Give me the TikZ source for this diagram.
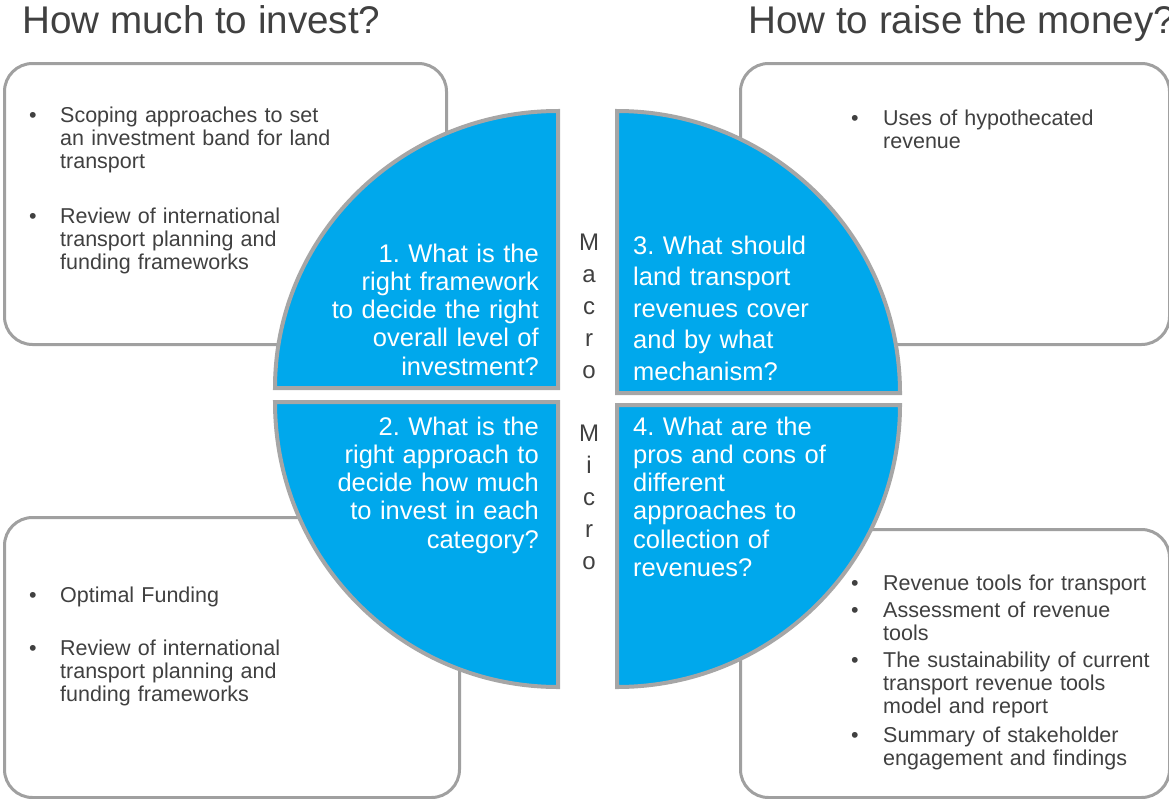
\documentclass[tikz,border=0pt]{standalone}
\usepackage{fontspec}
\setmainfont{Liberation Sans}
\usetikzlibrary{positioning}
\frenchspacing

\definecolor{qblue}{RGB}{0,168,236}
\definecolor{qedge}{RGB}{166,166,166}
\definecolor{boxedge}{RGB}{160,160,160}
\definecolor{txt}{RGB}{64,64,64}

\tikzset{
  frame/.style={draw=boxedge,line width=3pt,rounded corners=28pt,fill=white,
    anchor=north west,inner sep=0pt},
  quad/.style={fill=qblue,draw=qedge,line width=4pt},
  title/.style={anchor=base west,inner sep=0pt,text=txt,
    font=\fontsize{38.6}{44}\selectfont},
  item/.style={anchor=base west,inner sep=0pt,text=txt,align=left,text width=280pt,
    font=\fontsize{21.5}{23.3}\selectfont},
  bul/.style={anchor=base west,inner sep=0pt,text=txt,
    font=\fontsize{21.5}{23.3}\selectfont},
  qtext/.style={inner sep=0pt,text=white,text width=240pt,font=\fontsize{25.5}{28.3}\selectfont},
  axis/.style={anchor=base,inner sep=0pt,text=txt,align=center,text width=30pt,
    font=\fontsize{24}{32.2}\selectfont}
}

\begin{document}
\begin{tikzpicture}[x=1pt,y=-1pt]
    \useasboundingbox (0,0) rectangle (1169,798);
    % titles
    \node[title] (ttl) at (22,33) {How much to invest?};
    \node[title] (ttr) at (748,33) {How to raise the money?};
    % boxes behind the circle
    \node[frame,minimum width=442,minimum height=281] (boxtl) at (3,62) {};
    \node[frame,minimum width=429,minimum height=281] (boxtr) at (739,62) {};
    \node[frame,minimum width=455,minimum height=280] (boxbl) at (3,516) {};
    \node[frame,minimum width=429,minimum height=268] (boxbr) at (739,528) {};
    % the four quarters
    \filldraw[quad] (558,388) -- (275,388) arc[start angle=180,end angle=270,x radius=283,y radius=277] -- cycle;
    \filldraw[quad] (558,402) -- (558,687) arc[start angle=90,end angle=180,x radius=283,y radius=285] -- cycle;
    \filldraw[quad] (617,393) -- (617,111) arc[start angle=270,end angle=360,x radius=283,y radius=282] -- cycle;
    \filldraw[quad] (617,405) -- (900,405) arc[start angle=0,end angle=90,x radius=283,y radius=282] -- cycle;
    % questions
    \node[qtext,anchor=base east,align=right] (q1) at (539,262) {1. What is the\\right framework\\to decide the right\\overall level of\\investment?};
    \node[qtext,anchor=base east,align=right] (q2) at (539,435) {2. What is the\\right approach to\\decide how much\\to invest in each\\category?};
    \node[qtext,anchor=base west,align=left,font=\fontsize{25.5}{31.5}\selectfont] (q3) at (633,254) {3. What should\\land transport\\revenues cover\\and by what\\mechanism?};
    \node[qtext,anchor=base west,align=left] (q4) at (633,435) {4. What are the\\pros and cons of\\different\\approaches to\\collection of\\revenues?};
    % macro / micro
    \node[axis] (macro) at (589,250) {M\\a\\c\\r\\o};
    \node[axis] (micro) at (589,441) {M\\i\\c\\r\\o};
    % top left items
    \node[bul] (b1) at (29,122) {•};
    \node[item] (i1) at (60,122) {Scoping approaches to set\\an investment band for land\\transport};
    \node[bul] (b2) at (29,223) {•};
    \node[item] (i2) at (60,223) {Review of international\\transport planning and\\funding frameworks};
    % bottom left items
    \node[bul] (b3) at (29,602) {•};
    \node[item] (i3) at (60,602) {Optimal Funding};
    \node[bul] (b4) at (29,655) {•};
    \node[item] (i4) at (60,655) {Review of international\\transport planning and\\funding frameworks};
    % top right item
    \node[bul] (b5) at (851,125) {•};
    \node[item] (i5) at (883,125) {Uses of hypothecated\\revenue};
    % bottom right items
    \node[bul] (b6) at (851,590) {•};
    \node[item] (i6) at (883,590) {Revenue tools for transport};
    \node[bul] (b7) at (851,617) {•};
    \node[item] (i7) at (883,617) {Assessment of revenue\\tools};
    \node[bul] (b8) at (851,667) {•};
    \node[item] (i8) at (883,667) {The sustainability of current\\transport revenue tools\\model and report};
    \node[bul] (b9) at (851,742) {•};
    \node[item] (i9) at (883,742) {Summary of stakeholder\\engagement and findings};
\end{tikzpicture}
\end{document}
